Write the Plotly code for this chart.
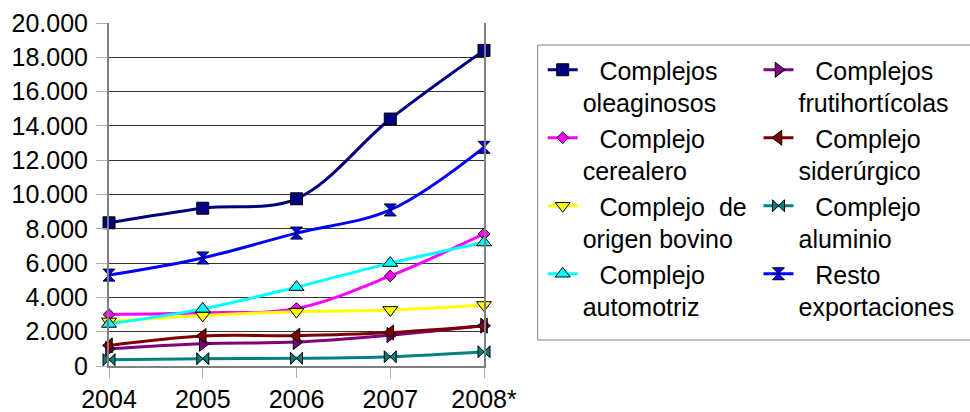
import plotly.graph_objects as go

# Exportaciones por complejo (millones de USD)
years = ["2004", "2005", "2006", "2007", "2008*"]

oleaginosos = [8350, 9200, 9750, 14400, 18400]
cerealero = [3000, 3100, 3350, 5250, 7700]
origen_bovino = [2600, 2950, 3170, 3270, 3560]
automotriz = [2450, 3330, 4600, 6000, 7200]
frutihorticolas = [1000, 1300, 1400, 1800, 2350]
siderurgico = [1200, 1750, 1770, 1950, 2350]
aluminio = [370, 430, 450, 540, 830]
resto = [5300, 6300, 7750, 9100, 12750]

y_ticks = [0, 2000, 4000, 6000, 8000, 10000, 12000, 14000, 16000, 18000, 20000]
y_tick_text = ["0", "2.000", "4.000", "6.000", "8.000", "10.000",
               "12.000", "14.000", "16.000", "18.000", "20.000"]

FONT = "Liberation Sans, Arial, sans-serif"

# first-line indent of the legend labels; the wide space also sets row height
IND = ("<span style='font-size:51px'>\u00a0</span>"
       "<span style='font-size:9px'>\u00a0</span>")

# name, values, colour, marker symbol, legend column, rank within column
series = [
    (IND + "Complejos<br>oleaginosos", oleaginosos, "#000080", "square", "legend", 1),
    (IND + "Complejo<br>cerealero", cerealero, "#FF00FF", "diamond", "legend", 2),
    (IND + "Complejo\u00a0\u00a0de<br>origen bovino", origen_bovino, "#FFFF00", "triangle-down", "legend", 3),
    (IND + "Complejo<br>automotriz", automotriz, "#00FFFF", "triangle-up", "legend", 4),
    (IND + "Complejos<br>frutihortícolas", frutihorticolas, "#800080", "triangle-right", "legend2", 1),
    (IND + "Complejo<br>siderúrgico", siderurgico, "#800000", "triangle-left", "legend2", 2),
    (IND + "Complejo<br>aluminio", aluminio, "#008080", "bowtie", "legend2", 3),
    (IND + "Resto<br>exportaciones", resto, "#0000FF", "hourglass", "legend2", 4),
]

sizes = {"square": 12, "diamond": 9, "triangle-down": 13, "triangle-up": 13,
         "triangle-right": 13, "triangle-left": 13, "bowtie": 12, "hourglass": 12}

fig = go.Figure()
for name, vals, color, symbol, leg, rank in series:
    fig.add_trace(go.Scatter(
        x=years, y=vals, name=name, mode="lines+markers",
        line=dict(color=color, width=3, shape="spline"),
        marker=dict(symbol=symbol, size=sizes[symbol], color=color,
                    line=dict(color="black", width=1)),
        legend=leg, legendrank=rank, cliponaxis=False,
    ))

legend_common = dict(
    orientation="v", xanchor="left", y=0.930, yanchor="top",
    font=dict(family=FONT, size=25, color="black"),
    indentation=4, valign="top", itemwidth=30, tracegroupgap=0,
    bordercolor="rgba(0,0,0,0)", borderwidth=0, bgcolor="rgba(0,0,0,0)",
)

# legend frame: left, top and bottom edges, open at the figure's right edge
FX0, FX1, FY0, FY1 = 1.1432, 2.296, 0.0758, 0.9359
frame = f"M {FX1},{FY1} L {FX0},{FY1} L {FX0},{FY0} L {FX1},{FY0}"

fig.update_layout(
    width=970, height=412,
    margin=dict(l=109, r=486, t=23, b=46, autoexpand=False),
    paper_bgcolor="white", plot_bgcolor="white",
    font=dict(family=FONT, size=25, color="black"),
    showlegend=True,
    legend=dict(x=1.1459, **legend_common),
    legend2=dict(x=1.7213, **legend_common),
    shapes=[dict(type="path", xref="paper", yref="paper", path=frame,
                 line=dict(color="#808080", width=1), layer="below")],
)

fig.update_xaxes(
    type="category", range=[0, 4], showgrid=False, zeroline=False,
    showline=True, linecolor="#808080", linewidth=2,
    ticks="outside", ticklen=10, tickcolor="#b0b0b0", tickwidth=1,
    tickfont=dict(family=FONT, size=25, color="black"),
)
fig.update_yaxes(
    range=[0, 20000], tickvals=y_ticks, ticktext=y_tick_text,
    showgrid=True, gridcolor="#333333", gridwidth=1, zeroline=False,
    showline=True, linecolor="#808080", linewidth=2, mirror=True,
    ticks="outside", ticklen=11, tickcolor="#b0b0b0", tickwidth=1,
    ticklabelstandoff=3,
    tickfont=dict(family=FONT, size=25, color="black"),
)

fig.write_html("out.html")
